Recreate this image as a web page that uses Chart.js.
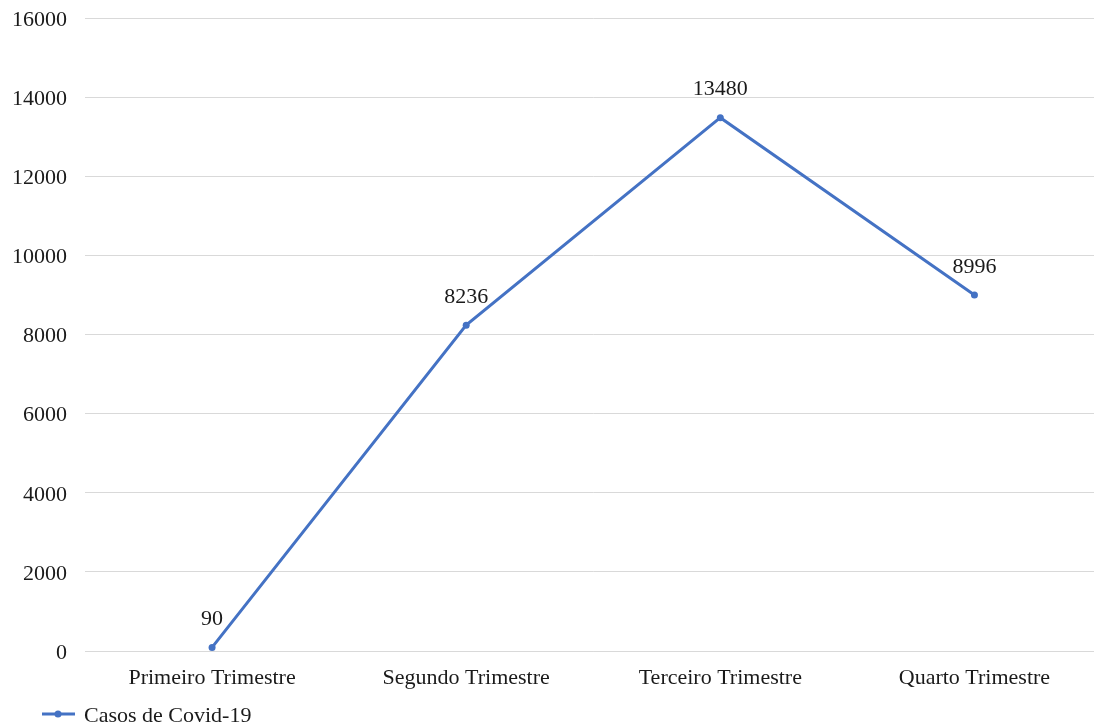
<!DOCTYPE html>
<html>
<head>
<meta charset="utf-8">
<script src="https://cdn.jsdelivr.net/npm/chart.js@4.4.1/dist/chart.umd.min.js"></script>
<style>
  html, body { margin: 0; padding: 0; background: #ffffff; overflow: hidden; }
  #wrap { position: relative; width: 1105px; height: 725px; }
</style>
</head>
<body>
<div id="wrap"><canvas id="chart"></canvas></div>
<script>
// Casos de Covid-19 por trimestre
const categories = ['Primeiro Trimestre', 'Segundo Trimestre', 'Terceiro Trimestre', 'Quarto Trimestre'];
const casos = [90, 8236, 13480, 8996];
const seriesName = 'Casos de Covid-19';
const yMin = 0;
const yMax = 16000;
const yStep = 2000;

const FONT = '"Liberation Serif", "Times New Roman", serif';
const FONT_SIZE = 22;
const TEXT = '#1a1a1a';
const BLUE = '#4472C4';
const GRID = '#d9d9d9';

// Value labels above each point
const valueLabels = {
  id: 'valueLabels',
  afterDatasetsDraw(chart) {
    const ctx = chart.ctx;
    const meta = chart.getDatasetMeta(0);
    ctx.save();
    ctx.font = FONT_SIZE + 'px ' + FONT;
    ctx.fillStyle = TEXT;
    ctx.textAlign = 'center';
    ctx.textBaseline = 'middle';
    meta.data.forEach((pt, i) => {
      ctx.fillText(String(chart.data.datasets[0].data[i]), pt.x, pt.y - 28);
    });
    ctx.restore();
  }
};

// Line-with-marker legend in the lower-left corner
const lineLegend = {
  id: 'lineLegend',
  afterDraw(chart) {
    const ctx = chart.ctx;
    const y = 714;
    ctx.save();
    ctx.strokeStyle = BLUE;
    ctx.lineWidth = 3;
    ctx.beginPath();
    ctx.moveTo(42, y);
    ctx.lineTo(75, y);
    ctx.stroke();
    ctx.fillStyle = BLUE;
    ctx.beginPath();
    ctx.arc(58, y, 3.5, 0, Math.PI * 2);
    ctx.fill();
    ctx.font = FONT_SIZE + 'px ' + FONT;
    ctx.fillStyle = TEXT;
    ctx.textAlign = 'left';
    ctx.textBaseline = 'middle';
    ctx.fillText(chart.data.datasets[0].label, 84, y + 2);
    ctx.restore();
  }
};

new Chart(document.getElementById('chart'), {
  type: 'line',
  data: {
    labels: categories,
    datasets: [{
      label: seriesName,
      data: casos,
      borderColor: BLUE,
      backgroundColor: BLUE,
      borderWidth: 3,
      pointRadius: 3.5,
      pointHoverRadius: 3.5,
      pointBackgroundColor: BLUE,
      pointBorderWidth: 0,
      tension: 0,
      clip: false
    }]
  },
  options: {
    responsive: true,
    maintainAspectRatio: false,
    animation: false,
    layout: { padding: { top: 18, right: 1, bottom: 0, left: 0 } },
    plugins: {
      legend: { display: false },
      tooltip: { enabled: false }
    },
    scales: {
      x: {
        type: 'category',
        offset: true,
        grid: { display: false, drawTicks: false },
        border: { display: true, color: GRID, width: 1 },
        ticks: {
          padding: 14,
          color: TEXT,
          font: { family: FONT, size: FONT_SIZE },
          maxRotation: 0,
          autoSkip: false
        },
        afterFit(scale) {
          scale.height = 74;
          scale.paddingLeft = 0;
          scale.paddingRight = 0;
        }
      },
      y: {
        min: yMin,
        max: yMax,
        grid: { color: GRID, lineWidth: 1, drawTicks: false },
        border: { display: false },
        ticks: {
          stepSize: yStep,
          padding: 18,
          labelOffset: 2,
          color: TEXT,
          font: { family: FONT, size: FONT_SIZE },
          callback: (v) => String(v)
        },
        afterFit(scale) {
          scale.width = 85;
          scale.paddingTop = 0;
          scale.paddingBottom = 0;
        }
      }
    }
  },
  plugins: [valueLabels, lineLegend]
});
</script>
</body>
</html>
